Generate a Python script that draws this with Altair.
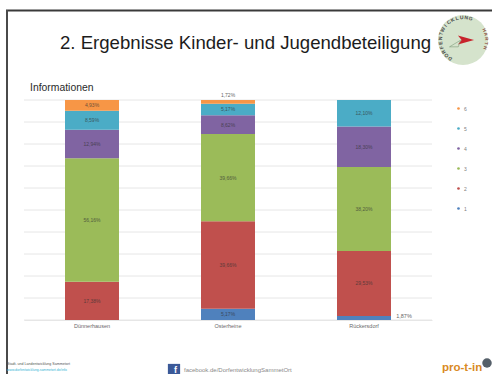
import math
import altair as alt
import pandas as pd

# Survey shares per village, bottom to top of each stacked column
places = ["Dünnerhausen", "Osterheine", "Rückersdorf"]
answers = ["1", "2", "3", "4", "5", "6"]
share_first = [0, 17.38, 56.16, 12.94, 8.59, 4.93]
share_second = [5.17, 39.66, 39.66, 8.62, 5.17, 1.72]
share_third = [1.87, 29.53, 38.20, 18.30, 12.10, 0]
colors = ["#f79646", "#4bacc6", "#8064a2", "#9bbb59", "#c0504d", "#4f81bd"]
legend_order = ["6", "5", "4", "3", "2", "1"]
grid_values = [0, 10, 20, 30, 40, 50, 60, 70, 80, 90, 100]

FONT = "Liberation Sans"
LEFT, TOP = 24, 100

rows = []
for place, shares in zip(places, [share_first, share_second, share_third]):
    for answer, share in zip(answers, shares):
        if share > 0:
            rows.append({
                "place": place,
                "answer": answer,
                "rank": int(answer),
                "value": share,
                "label": f"{share:.2f}".replace(".", ",") + "%",
            })
data = pd.DataFrame(rows)

x_enc = alt.X(
    "place:N",
    sort=places,
    scale=alt.Scale(paddingInner=0.603, paddingOuter=0.3015),
    axis=alt.Axis(
        title=None, labelAngle=0, labelFont=FONT, labelFontSize=5.5,
        labelColor="#6a6a6a", labelPadding=3, ticks=False,
        domainColor="#e6e6e6",
    ),
)
y_scale = alt.Scale(domain=[0, 100], nice=False)

# Horizontal guide lines at every tenth of the scale
grid = alt.Chart(pd.DataFrame({"level": grid_values})).mark_rule(
    color="#e6e6e6", strokeWidth=1
).encode(y=alt.Y("level:Q", scale=y_scale, axis=None))

bars = alt.Chart(data).mark_bar().encode(
    x=x_enc,
    y=alt.Y("value:Q", stack="zero", scale=y_scale, axis=None),
    color=alt.Color(
        "answer:N",
        scale=alt.Scale(domain=legend_order, range=colors),
        legend=alt.Legend(
            title=None, orient="none", legendX=432, legendY=6,
            symbolSize=7, symbolType="circle", labelFont=FONT, labelFontSize=5,
            labelColor="#808080", rowPadding=14, labelOffset=3,
        ),
    ),
    order=alt.Order("rank:Q"),
)

stacked = (
    alt.Chart(data)
    .transform_stack(
        stack="value", groupby=["place"], sort=[alt.SortField("rank")],
        as_=["low", "high"],
    )
    .transform_calculate(mid="(datum.low + datum.high) / 2")
)

inside = stacked.transform_filter("datum.value >= 2").mark_text(
    font=FONT, fontSize=5, color="#333333", opacity=0.7
).encode(
    x=alt.X("place:N", sort=places),
    y=alt.Y("mid:Q", scale=y_scale),
    text="label:N",
)
above = stacked.transform_filter("datum.value < 2 && datum.rank == 6").mark_text(
    font=FONT, fontSize=5, color="#666666", dy=-5
).encode(
    x=alt.X("place:N", sort=places),
    y=alt.Y("high:Q", scale=y_scale),
    text="label:N",
)
beside = stacked.transform_filter("datum.value < 2 && datum.rank == 1").mark_text(
    font=FONT, fontSize=5.5, color="#666666", dx=40, dy=-2
).encode(
    x=alt.X("place:N", sort=places),
    y=alt.Y("mid:Q", scale=y_scale),
    text="label:N",
)


def px(x):
    return alt.value(x - LEFT)


def py(y):
    return alt.value(y - TOP)


def caption(text, x, y, size, color="#222222", align="left", **kw):
    return alt.Chart(pd.DataFrame({"t": [text]})).mark_text(
        font=FONT, fontSize=size, color=color, align=align, baseline="middle", **kw
    ).encode(x=px(x), y=py(y), text="t:N")


def hline(x1, x2, y, color, width):
    return alt.Chart(pd.DataFrame({"a": [0]})).mark_rule(
        color=color, strokeWidth=width
    ).encode(x=px(x1), x2=px(x2), y=py(y))


def vline(x, y1, y2, color, width):
    return alt.Chart(pd.DataFrame({"a": [0]})).mark_rule(
        color=color, strokeWidth=width
    ).encode(x=px(x), y=py(y1), y2=py(y2))


def dot(x, y, size, color, shape="circle", **kw):
    return alt.Chart(pd.DataFrame({"a": [0]})).mark_point(
        filled=True, color=color, size=size, shape=shape, opacity=1, **kw
    ).encode(x=px(x), y=py(y))


# Slide frame and headings
decor = [
    hline(6, 492, 10.5, "#3a3a3a", 1.8),
    vline(7, 10, 374, "#4a4a4a", 2),
    caption("2. Ergebnisse Kinder- und Jugendbeteiligung", 60, 43, 18.6, "#1c1c1c"),
    caption("Informationen", 30, 88, 10.4, "#2a2a2a"),
]

# Round badge with lettering along its rim
cx, cy, rim = 463, 40, 23
decor.append(dot(cx, cy, 2500, "#d5e3cc"))
badge_text = "DORFENTWICKLUNG"
for i, ch in enumerate(badge_text):
    a = 215 + i * (165 / (len(badge_text) - 1))
    rad = math.radians(a)
    decor.append(
        caption(ch, cx + rim * math.sin(rad), cy - rim * math.cos(rad), 5,
                "#4a4a4a", "center", angle=a % 360, fontWeight="bold")
    )
for i, ch in enumerate("HARTH"):
    a = 65 + i * 11
    rad = math.radians(a)
    decor.append(
        caption(ch, cx + rim * math.sin(rad), cy - rim * math.cos(rad), 4.5,
                "#8a4a3a", "center", angle=a % 360, fontWeight="bold")
    )
decor.append(dot(cx + 3, cy, 260, "#c8232c",
                 shape="M 1 0 L -1 -0.55 L -0.55 0 L -1 0.55 Z"))
decor.append(
    alt.Chart(pd.DataFrame({"a": [0]})).mark_point(
        color="#6f8f6a", size=120, strokeWidth=0.5, opacity=1,
        shape="M -1 0.7 L 1 -0.5 L 0.6 0.7 Z",
    ).encode(x=px(cx - 8), y=py(cy + 3))
)

# Footer
decor += [
    caption("Stadt- und Landentwicklung Sammetort", 7, 364, 3.6, "#555555"),
    caption("www.dorfentwicklung-sammetort.de/info", 7, 370, 3.4, "#35b5d5"),
    dot(174, 370, 150, "#3b5998", shape="square"),
    caption("f", 175.5, 369.5, 9, "#ffffff", "center", fontWeight="bold"),
    caption("facebook.de/DorfentwicklungSammetOrt", 184, 370, 6, "#8a8a8a"),
    caption("pro-t-in", 442, 367.5, 11.5, "#d98a1f", fontWeight="bold"),
    dot(487, 363, 90, "#56606a"),
]

chart = alt.layer(grid, bars, inside, above, beside, *decor).properties(
    width=408,
    height=220,
    padding={"left": LEFT, "top": TOP, "right": 60, "bottom": 54},
    autosize=alt.AutoSizeParams(type="none"),
    background="white",
).configure_view(stroke=None)

chart.save("out.html", embed_options={"renderer": "svg", "actions": False})
